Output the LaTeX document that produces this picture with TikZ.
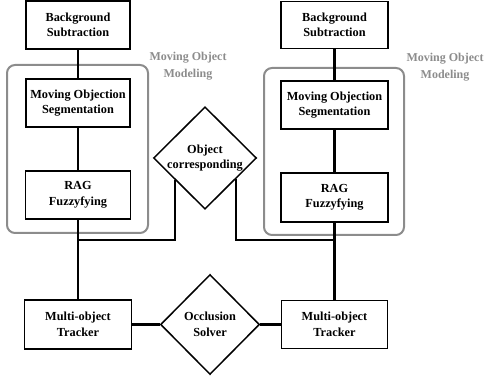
\documentclass[tikz,border=0pt]{standalone}
\usepackage{fontspec}
\setmainfont{Liberation Serif}
\usetikzlibrary{shapes.geometric,calc}

\definecolor{groupgray}{RGB}{140,140,140}

\tikzset{
  stagebox/.style={draw,line width=1.5pt,minimum width=105pt,minimum height=48pt,
    inner sep=0pt,align=center,font=\bfseries\fontsize{12.3}{15.5}\selectfont},
  decision/.style={draw,diamond,line width=1.5pt,aspect=1,inner sep=0pt,
    align=center,font=\bfseries\fontsize{12.3}{15.5}\selectfont},
  groupbox/.style={draw=groupgray,line width=2pt,rounded corners=8pt},
  grouplabel/.style={text=groupgray,align=center,font=\bfseries\fontsize{12}{17}\selectfont},
  link/.style={line width=2.2pt}
}

\begin{document}
\begin{tikzpicture}[x=1pt,y=1pt]
  \useasboundingbox (0,0) rectangle (484,380);
  % moving object modeling groups
  \node[groupbox,minimum width=141pt,minimum height=168pt] (grpL) at (77.5,231) {};
  \node[groupbox,minimum width=140pt,minimum height=167pt] (grpR) at (334,228.5) {};
  \node[grouplabel] (lblL) at (188,314) {Moving Object\\Modeling};
  \node[grouplabel] (lblR) at (445,313) {Moving Object\\Modeling};

  % left column
  \node[stagebox,minimum width=104pt] (bsL) at (78,355) {Background\\Subtraction};
  \node[stagebox,minimum width=104pt] (mosL) at (78,277) {Moving Objection\\Segmentation};
  \node[stagebox] (ragL) at (78,185) {RAG\\Fuzzyfying};
  \node[stagebox,minimum width=107pt,minimum height=49pt] (motL) at (78,55.5) {Multi-object\\Tracker};

  % right column
  \node[stagebox,minimum width=107pt,minimum height=47pt] (bsR) at (334.5,355) {Background\\Subtraction};
  \node[stagebox,minimum width=107pt] (mosR) at (334.5,275) {Moving Objection\\Segmentation};
  \node[stagebox,minimum width=107pt,minimum height=49pt] (ragR) at (334.5,182.5) {RAG\\Fuzzyfying};
  \node[stagebox,minimum width=106pt] (motR) at (334.5,55.5) {Multi-object\\Tracker};

  \node[decision,minimum width=103pt,minimum height=101pt] (objc) at (205,222) {Object\\corresponding};
  \node[decision,minimum width=99pt,minimum height=100pt] (occ) at (210,55.5) {Occlusion\\Solver};

  \coordinate (jL) at (78,140);
  \coordinate (jR) at (334.5,140);
  \coordinate (legL) at ($(objc.west)!0.43!(objc.south)$);
  \coordinate (legR) at ($(objc.south)!0.6!(objc.east)$);

  \draw[link] (bsL) -- (mosL);
  \draw[link] (mosL) -- (ragL);
  \draw[link] (ragL) -- (motL);
  \draw[link] (bsR) -- (mosR);
  \draw[link] (mosR) -- (ragR);
  \draw[link] (ragR) -- (motR);
  \draw[link] (legL) |- (jL);
  \draw[link] (legR) |- (jR);
  \draw[link] (motL) -- (occ);
  \draw[link] (occ) -- (motR);
\end{tikzpicture}
\end{document}
